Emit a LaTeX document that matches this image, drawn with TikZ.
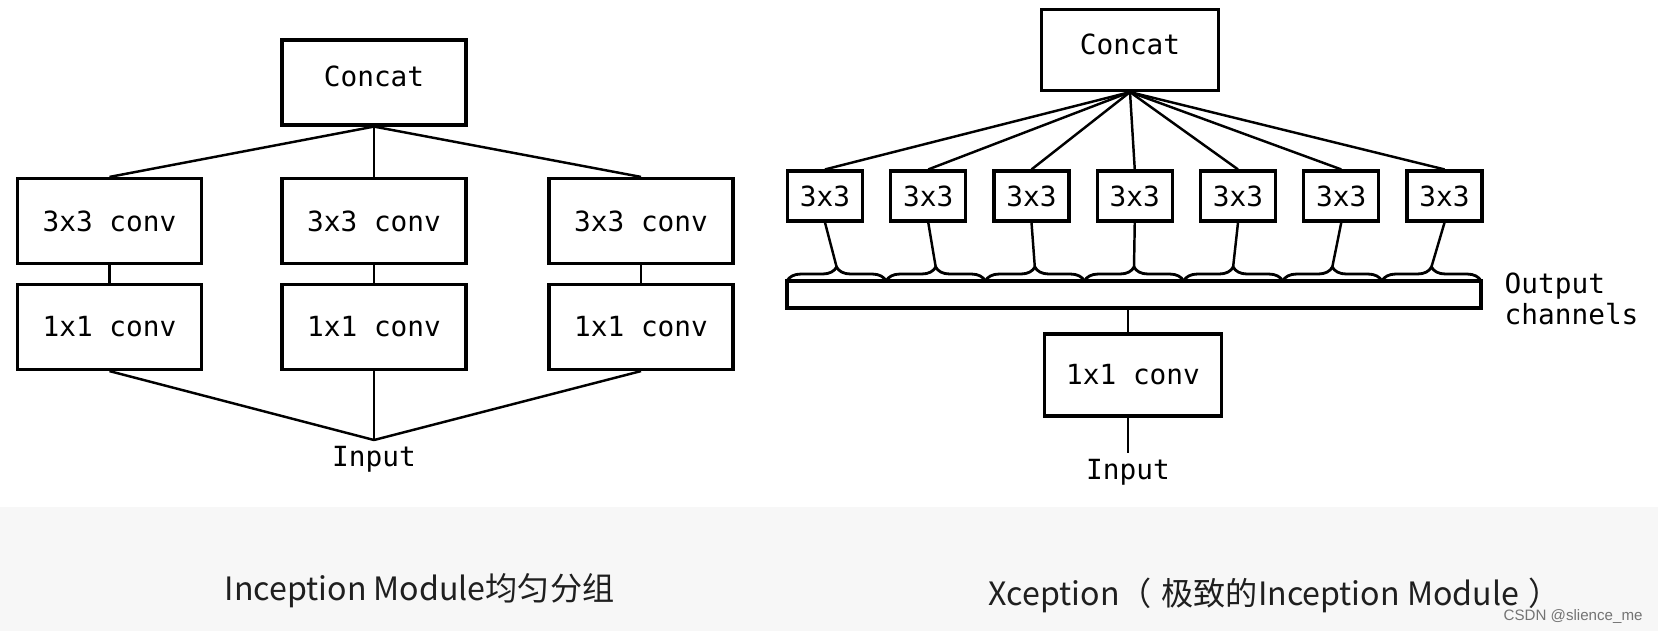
\documentclass[tikz,border=0pt]{standalone}
\usepackage{fontspec}
\setmonofont{DejaVu Sans Mono}
\newfontfamily\cjkfont{Noto Sans CJK SC}
\newfontfamily\markfont{Liberation Sans}
\usetikzlibrary{decorations.pathreplacing}

\begin{document}
\begin{tikzpicture}[font=\ttfamily\fontsize{7.9}{8.8}\selectfont,
  blk/.style={draw=black,line width=.9pt,minimum width=1.84cm,minimum height=.85cm,inner sep=0pt},
  tinyblk/.style={draw=black,line width=.9pt,minimum width=.75cm,minimum height=.5cm,inner sep=0pt},
  wire/.style={black,line width=.7pt},
  curly/.style={decorate,decoration={brace,amplitude=.14cm},line width=.8pt},
  caption/.style={anchor=base west,inner sep=0pt,text=black!88,font=\cjkfont\fontsize{9.15}{10}\selectfont}]
\useasboundingbox (0,0) rectangle (16.58,6.31);
\fill[white] (0,0) rectangle (16.58,6.31);
\fill[black!3] (0,0) rectangle (16.58,1.24);
% left: inception module
\node[blk,text depth=.12cm] (catA) at (3.74,5.485) {Concat};
\node[blk] (thrA1) at (1.095,4.10) {3x3 conv};
\node[blk] (thrA2) at (3.74,4.10) {3x3 conv};
\node[blk] (thrA3) at (6.41,4.10) {3x3 conv};
\node[blk] (oneA1) at (1.095,3.04) {1x1 conv};
\node[blk] (oneA2) at (3.74,3.04) {1x1 conv};
\node[blk] (oneA3) at (6.41,3.04) {1x1 conv};
\node[anchor=north,inner sep=.06cm] (inA) at (3.74,1.91) {Input};
\draw[wire] (catA.south) -- (thrA1.north);
\draw[wire] (catA.south) -- (thrA2.north);
\draw[wire] (catA.south) -- (thrA3.north);
\draw[wire] (thrA1.south) -- (oneA1.north);
\draw[wire] (thrA2.south) -- (oneA2.north);
\draw[wire] (thrA3.south) -- (oneA3.north);
\draw[wire] (oneA1.south) -- (inA.north);
\draw[wire] (oneA2.south) -- (inA.north);
\draw[wire] (oneA3.south) -- (inA.north);
% right: xception
\node[blk,minimum width=1.77cm,minimum height=.81cm,text depth=.12cm] (catB) at (11.30,5.81) {Concat};
\node[tinyblk] (thrB1) at (8.25,4.35) {3x3};
\node[tinyblk] (thrB2) at (9.2825,4.35) {3x3};
\node[tinyblk] (thrB3) at (10.315,4.35) {3x3};
\node[tinyblk] (thrB4) at (11.3475,4.35) {3x3};
\node[tinyblk] (thrB5) at (12.38,4.35) {3x3};
\node[tinyblk] (thrB6) at (13.4125,4.35) {3x3};
\node[tinyblk] (thrB7) at (14.445,4.35) {3x3};
\node[draw=black,line width=.9pt,minimum width=6.94cm,minimum height=.27cm,inner sep=0pt] (chan) at (11.34,3.365) {};
\node[anchor=west,align=left,inner sep=0pt] (outlbl) at (15.04,3.325) {Output\\channels};
\node[blk,minimum width=1.77cm,minimum height=.82cm] (convB) at (11.33,2.56) {1x1 conv};
\node[anchor=north,inner sep=.06cm] (inB) at (11.28,1.78) {Input};
\draw[curly] (7.87,3.50) -- (8.861,3.50);
\draw[curly] (8.861,3.50) -- (9.853,3.50);
\draw[curly] (9.853,3.50) -- (10.844,3.50);
\draw[curly] (10.844,3.50) -- (11.836,3.50);
\draw[curly] (11.836,3.50) -- (12.827,3.50);
\draw[curly] (12.827,3.50) -- (13.819,3.50);
\draw[curly] (13.819,3.50) -- (14.81,3.50);
\coordinate (tip1) at (8.366,3.64);
\coordinate (tip2) at (9.357,3.64);
\coordinate (tip3) at (10.348,3.64);
\coordinate (tip4) at (11.34,3.64);
\coordinate (tip5) at (12.331,3.64);
\coordinate (tip6) at (13.323,3.64);
\coordinate (tip7) at (14.314,3.64);
\draw[wire] (catB.south) -- (thrB1.north);
\draw[wire] (catB.south) -- (thrB2.north);
\draw[wire] (catB.south) -- (thrB3.north);
\draw[wire] (catB.south) -- (thrB4.north);
\draw[wire] (catB.south) -- (thrB5.north);
\draw[wire] (catB.south) -- (thrB6.north);
\draw[wire] (catB.south) -- (thrB7.north);
\draw[wire] (thrB1.south) -- (tip1);
\draw[wire] (thrB2.south) -- (tip2);
\draw[wire] (thrB3.south) -- (tip3);
\draw[wire] (thrB4.south) -- (tip4);
\draw[wire] (thrB5.south) -- (tip5);
\draw[wire] (thrB6.south) -- (tip6);
\draw[wire] (thrB7.south) -- (tip7);
\draw[wire] (chan.south -| inB.north) -- (convB.north -| inB.north);
\draw[wire] (convB.south -| inB.north) -- (inB.north);
% captions
\node[caption] (capA) at (2.24,0.31) {Inception Module均匀分组};
\node[caption] (capB) at (9.88,0.26) {Xception（\hspace{.3em}极致的Inception Module\hspace{.3em}）};
\node[anchor=base west,inner sep=0pt,text=black!55,font=\markfont\fontsize{4.3}{5}\selectfont] (mark) at (15.03,0.11) {CSDN @slience\_me};
\end{tikzpicture}
\end{document}
